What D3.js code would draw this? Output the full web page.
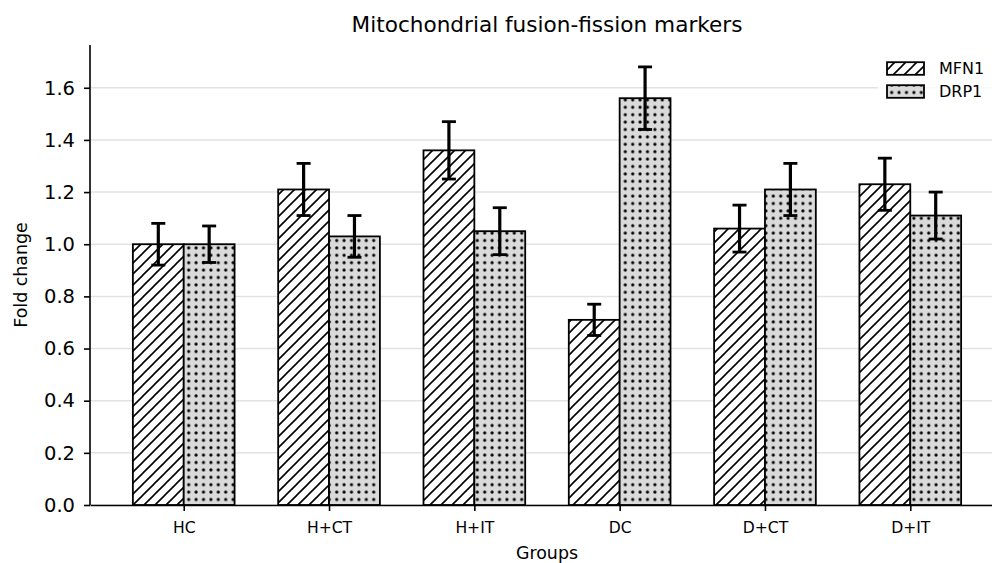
<!DOCTYPE html>
<html><head><meta charset="utf-8">
<script src="https://cdn.jsdelivr.net/npm/d3@7"></script>
<style>body{margin:0;background:#fff} svg{display:block} text{font-family:"DejaVu Sans",sans-serif;fill:#000}</style>
</head><body><svg id="c" width="992" height="563"></svg>
<script>
const groups = ["HC","H+CT","H+IT","DC","D+CT","D+IT"];
const mfn1 = [1.00,1.21,1.36,0.71,1.06,1.23];
const mfn1Err = [0.08,0.10,0.11,0.06,0.09,0.10];
const drp1 = [1.00,1.03,1.05,1.56,1.21,1.11];
const drp1Err = [0.07,0.08,0.09,0.12,0.10,0.09];
const yTicks = [0,0.2,0.4,0.6,0.8,1.0,1.2,1.4,1.6];
const seriesNames = ["MFN1","DRP1"];
const titleText = "Mitochondrial fusion-fission markers";
const xLabel = "Groups", yLabel = "Fold change";

const svg = d3.select("#c");
const x = d3.scaleLinear().domain([-0.645, 5.645]).range([90, 1004]);
const y = d3.scaleLinear().domain([0, 1.764]).range([505, 45]);
const bw = 0.35;

// patterns
const defs = svg.append("defs");
const hs = 11;
const hp = defs.append("pattern").attr("id","hatch").attr("patternUnits","userSpaceOnUse")
  .attr("width",hs).attr("height",hs);
hp.append("rect").attr("width",hs).attr("height",hs).attr("fill","#fff");
hp.append("path").attr("d",`M0,${hs} L${hs},0 M${-hs/2},${hs/2} L${hs/2},${-hs/2} M${hs/2},${hs*1.5} L${hs*1.5},${hs/2}`)
  .attr("stroke","#000").attr("stroke-width",1.6);
const ds = 7.4;
const dp = defs.append("pattern").attr("id","dots").attr("patternUnits","userSpaceOnUse")
  .attr("width",ds).attr("height",ds);
dp.append("rect").attr("width",ds).attr("height",ds).attr("fill","#dadada");
dp.append("circle").attr("cx",ds/2).attr("cy",ds/2).attr("r",1.6).attr("fill","#000");

// grid
svg.append("g").selectAll("line").data(yTicks).join("line")
  .attr("x1",90).attr("x2",1004).attr("y1",d=>y(d)).attr("y2",d=>y(d))
  .attr("stroke","#e2e2e2").attr("stroke-width",1.5);

const series = [
  {name:seriesNames[0], vals:mfn1, err:mfn1Err, off:-bw, fill:"url(#hatch)"},
  {name:seriesNames[1], vals:drp1, err:drp1Err, off:0, fill:"url(#dots)"}
];

series.forEach(s=>{
  svg.append("g").selectAll("rect").data(s.vals).join("rect")
    .attr("x",(d,i)=>x(i+s.off)).attr("width",(d,i)=>x(i+s.off+bw)-x(i+s.off))
    .attr("y",d=>y(d)).attr("height",d=>y(0)-y(d))
    .attr("fill",s.fill).attr("stroke","#000").attr("stroke-width",1.8);
});
series.forEach(s=>{
  const g = svg.append("g").attr("stroke","#000").attr("stroke-width",3.2);
  s.vals.forEach((v,i)=>{
    const cx = x(i+s.off+bw/2);
    g.append("line").attr("x1",cx).attr("x2",cx).attr("y1",y(v-s.err[i])).attr("y2",y(v+s.err[i]));
    [v-s.err[i], v+s.err[i]].forEach(e=>{
      g.append("line").attr("x1",cx-7).attr("x2",cx+7).attr("y1",y(e)).attr("y2",y(e)).attr("stroke-width",2.8);
    });
  });
});

// axes
const ya = svg.append("g").attr("transform","translate(90,0)")
  .call(d3.axisLeft(y).tickValues(yTicks).tickFormat(d3.format(".1f")).tickSize(6).tickPadding(9).tickSizeOuter(0));
ya.select(".domain").attr("stroke-width",1.6).attr("d","M0,45V505");
ya.selectAll(".tick line").attr("stroke-width",1.6);
ya.selectAll("text").attr("font-size",19.5).attr("font-family","DejaVu Sans");

const xa = svg.append("g").attr("transform","translate(0,505)")
  .call(d3.axisBottom(x).tickValues(d3.range(groups.length)).tickFormat(i=>groups[i]).tickSize(6).tickPadding(11).tickSizeOuter(0));
xa.select(".domain").attr("stroke-width",1.6);
xa.selectAll(".tick line").attr("stroke-width",1.6);
xa.selectAll("text").attr("font-size",15.6).attr("font-family","DejaVu Sans");

svg.append("text").attr("x",547).attr("y",32).attr("text-anchor","middle").attr("font-size",21.6).text(titleText);
svg.append("text").attr("x",547).attr("y",559).attr("text-anchor","middle").attr("font-size",17.4).text(xLabel);
svg.append("text").attr("transform","translate(27,275) rotate(-90)").attr("text-anchor","middle").attr("font-size",17.4).text(yLabel);

// legend
const lg = svg.append("g");
lg.append("rect").attr("x",878).attr("y",54).attr("width",114).attr("height",50).attr("fill","#fff").attr("opacity",0.8);
const lc = [68.5, 91.5];
series.forEach((s,k)=>{
  lg.append("rect").attr("x",887).attr("y",lc[k]-6.3).attr("width",37).attr("height",12.6)
    .attr("fill",s.fill).attr("stroke","#000").attr("stroke-width",1.8);
  lg.append("text").attr("x",939).attr("y",lc[k]).attr("dy","0.36em").attr("font-size",16).text(s.name);
});
</script></body></html>
